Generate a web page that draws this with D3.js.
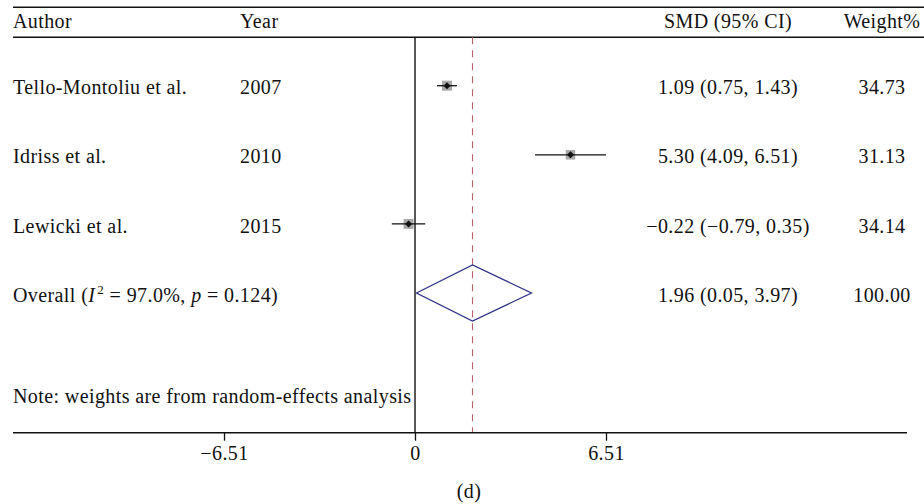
<!DOCTYPE html>
<html>
<head>
<meta charset="utf-8">
<script src="https://cdn.jsdelivr.net/npm/d3@7"></script>
<style>
  body { margin: 0; background: #fff; }
  text { font-family: "Liberation Serif", "Times New Roman", serif; font-size: 20px; letter-spacing: 0.4px; fill: #111; }
</style>
</head>
<body>
<div id="chart"></div>
<script>
const authors = ['Tello-Montoliu et al.', 'Idriss et al.', 'Lewicki et al.'];
const years = ['2007', '2010', '2015'];
const smd = [1.09, 5.30, -0.22];
const lower = [0.75, 4.09, -0.79];
const upper = [1.43, 6.51, 0.35];
const weights = [34.73, 31.13, 34.14];
const overall = { est: 1.96, lo: 0.05, hi: 3.97, weight: 100.00, i2: '97.0%', p: '0.124' };
const tickValues = [-6.51, 0, 6.51];

const width = 924;
const height = 504;
const fmt = d3.format('.2f');
const num = (v) => fmt(v).replace('-', '\u2212');

const svg = d3.select('#chart')
  .append('svg')
  .attr('width', width)
  .attr('height', height);

const x = d3.scaleLinear().domain([0, 6.51]).range([415, 606]);
const y = d3.scaleLinear().domain([0, 3]).range([85.7, 293]);
const box = d3.scaleSqrt().domain([0, 100]).range([0, 17]);

const left = 13;
const yearX = 240;
const smdX = 728;
const weightX = 882;
const topY = 37.3;
const axisY = 432.7;
const textDy = 8.6;

// header rules
svg.append('line').attr('x1', left).attr('x2', width).attr('y1', 7.3).attr('y2', 7.3)
  .attr('stroke', '#111').attr('stroke-width', 1.5);
svg.append('line').attr('x1', left).attr('x2', width).attr('y1', topY).attr('y2', topY)
  .attr('stroke', '#111').attr('stroke-width', 1.5);

const header = svg.append('g');
header.append('text').attr('x', left).attr('y', 28.3).text('Author');
header.append('text').attr('x', yearX).attr('y', 28.3).text('Year');
header.append('text').attr('x', smdX).attr('y', 28.3).attr('text-anchor', 'middle').text('SMD (95% CI)');
header.append('text').attr('x', weightX).attr('y', 28.3).attr('text-anchor', 'middle').text('Weight%');

// zero line and overall line
svg.append('line').attr('x1', x(0)).attr('x2', x(0)).attr('y1', topY).attr('y2', axisY)
  .attr('stroke', '#111').attr('stroke-width', 1.4);
svg.append('line').attr('x1', x(overall.est)).attr('x2', x(overall.est)).attr('y1', topY).attr('y2', axisY)
  .attr('stroke', '#b8606b').attr('stroke-width', 1.1).attr('stroke-dasharray', '7,6');

// study rows
const studies = authors.map((a, i) => ({
  author: a, year: years[i], est: smd[i], lo: lower[i], hi: upper[i], w: weights[i]
}));

const row = svg.selectAll('.study')
  .data(studies)
  .enter().append('g')
  .attr('class', 'study')
  .attr('transform', (d, i) => `translate(0,${y(i)})`);

row.append('text').attr('x', left).attr('y', textDy).text((d) => d.author);
row.append('text').attr('x', yearX).attr('y', textDy).text((d) => d.year);
row.append('text').attr('x', smdX).attr('y', textDy).attr('text-anchor', 'middle')
  .text((d) => `${num(d.est)} (${num(d.lo)}, ${num(d.hi)})`);
row.append('text').attr('x', weightX).attr('y', textDy).attr('text-anchor', 'middle')
  .text((d) => fmt(d.w));

row.append('rect')
  .attr('x', (d) => x(d.est) - box(d.w) / 2)
  .attr('y', (d) => -box(d.w) / 2)
  .attr('width', (d) => box(d.w))
  .attr('height', (d) => box(d.w))
  .attr('fill', '#a8a8a8');
row.append('line')
  .attr('x1', (d) => x(d.lo)).attr('x2', (d) => x(d.hi))
  .attr('y1', 0).attr('y2', 0)
  .attr('stroke', '#111').attr('stroke-width', 1.3);
row.append('path')
  .attr('transform', (d) => `translate(${x(d.est)},0)`)
  .attr('d', 'M0,-3.5L3.5,0L0,3.5L-3.5,0Z')
  .attr('fill', '#111');

// overall row
const ov = svg.append('g').attr('transform', `translate(0,${y(3)})`);
const ovText = ov.append('text').attr('x', left).attr('y', textDy);
ovText.append('tspan').text('Overall (');
ovText.append('tspan').attr('font-style', 'italic').text('I');
ovText.append('tspan').attr('font-size', '13px').attr('dx', 2).attr('dy', -8).text('2');
ovText.append('tspan').attr('dy', 8).text(` = ${overall.i2}, `);
ovText.append('tspan').attr('font-style', 'italic').text('p');
ovText.append('tspan').text(` = ${overall.p})`);
ov.append('text').attr('x', smdX).attr('y', textDy).attr('text-anchor', 'middle')
  .text(`${num(overall.est)} (${num(overall.lo)}, ${num(overall.hi)})`);
ov.append('text').attr('x', weightX).attr('y', textDy).attr('text-anchor', 'middle')
  .text(fmt(overall.weight));
ov.append('path')
  .attr('d', `M${x(overall.lo)},0L${x(overall.est)},-28L${x(overall.hi)},0L${x(overall.est)},28Z`)
  .attr('fill', 'none').attr('stroke', '#2e3186').attr('stroke-width', 1.3);

// note
svg.append('text').attr('x', left).attr('y', 403.3)
  .text('Note: weights are from random-effects analysis');

// axis
svg.append('line').attr('x1', left).attr('x2', 907).attr('y1', axisY).attr('y2', axisY)
  .attr('stroke', '#111').attr('stroke-width', 1.5);
const axis = svg.append('g')
  .attr('transform', `translate(0,${axisY})`)
  .call(d3.axisBottom(x).tickValues(tickValues).tickSize(8).tickPadding(5.5)
    .tickFormat((d) => d === 0 ? '0' : String(d).replace('-', '\u2212')));
axis.select('.domain').remove();
axis.selectAll('line').attr('stroke', '#111').attr('stroke-width', 1.3);
axis.selectAll('text')
  .style('font-family', '"Liberation Serif", "Times New Roman", serif')
  .style('font-size', '20px').attr('fill', '#111');

svg.append('text').attr('x', 469).attr('y', 498).attr('text-anchor', 'middle').text('(d)');
</script>
</body>
</html>
